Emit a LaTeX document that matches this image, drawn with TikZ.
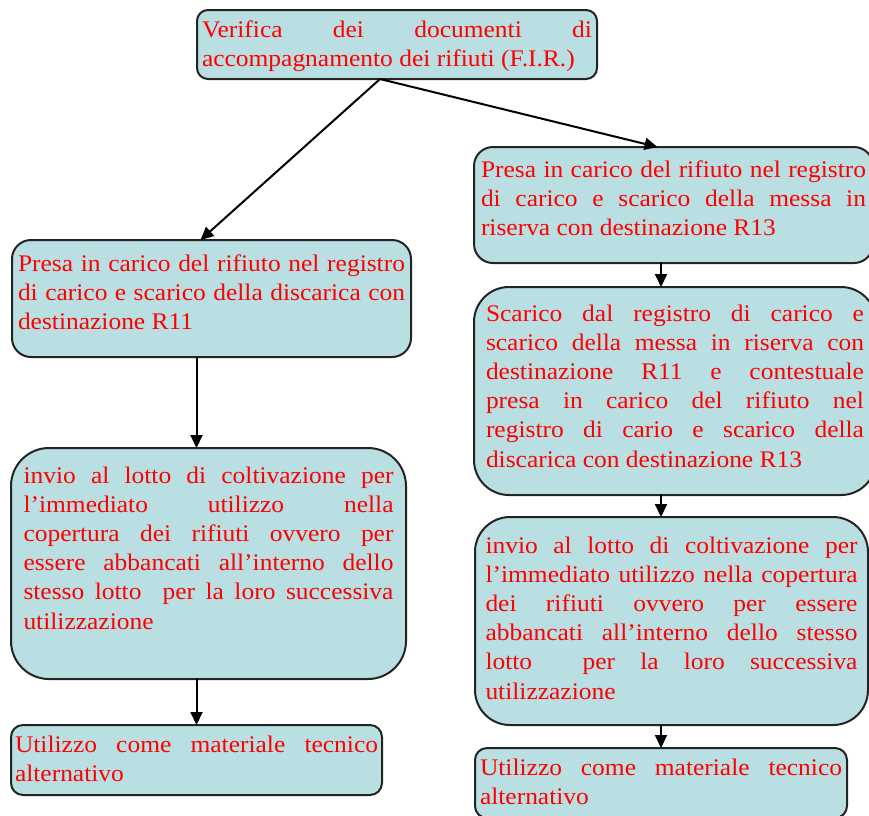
\documentclass[tikz,border=0pt]{standalone}
\usepackage{fontspec}
\setmainfont{Liberation Serif}[FakeStretch=1.07]
\usetikzlibrary{arrows.meta}
\definecolor{boxfill}{RGB}{185,223,227}
\definecolor{boxline}{RGB}{35,35,35}
\newcommand{\jl}[1]{\makebox[\hsize][s]{\spaceskip=0pt\relax #1}}

\begin{document}
\begin{tikzpicture}[x=1pt, y=-1pt, >={Triangle[length=13pt,width=12pt]}]
\tikzstyle{every node}=[draw=boxline, line width=2pt, fill=boxfill, text=red, anchor=north west, align=left, inner ysep=0pt, outer sep=0pt, font={\fontsize{23.8}{29.2}\selectfont}, execute at begin node={\spaceskip=0pt\relax}]
\useasboundingbox (0,0) rectangle (869,815);
% top box
\node[rounded corners=11pt, inner xsep=5pt, text width=390pt, text height=27pt, text depth=42pt](fir) at (197,10)
  {\jl{Verifica dei documenti di}\\accompagnamento dei rifiuti (F.I.R.)};
% left branch
\node[rounded corners=19pt, inner xsep=6pt, text width=387pt, text height=31pt, text depth=86pt](l1) at (12,240)
  {\jl{Presa in carico del rifiuto nel registro}\\\jl{di carico e scarico della discarica con}\\destinazione R11};
\node[rounded corners=38pt, inner xsep=12.5pt, text width=370pt, text height=35pt, text depth=196pt](l2) at (11,448)
  {\jl{invio al lotto di coltivazione per}\\\jl{l’immediato utilizzo nella}\\\jl{copertura dei rifiuti ovvero per}\\\jl{essere abbancati all’interno dello}\\\jl{stesso lotto\ \ per la loro successiva}\\utilizzazione};
\node[rounded corners=12pt, inner xsep=4pt, text width=363pt, text height=27pt, text depth=43pt](l3) at (11,725)
  {\jl{Utilizzo come materiale tecnico}\\alternativo};
% right branch
\node[rounded corners=19pt, inner xsep=7pt, text width=385pt, text height=30pt, text depth=86pt](r1) at (474,147)
  {\jl{Presa in carico del rifiuto nel registro}\\\jl{di carico e scarico della messa in}\\riserva con destinazione R13};
\node[rounded corners=35pt, inner xsep=12pt, text width=378pt, text height=34pt, text depth=174pt](r2) at (474,287)
  {\jl{Scarico dal registro di carico e}\\\jl{scarico della messa in riserva con}\\\jl{destinazione R11 e contestuale}\\\jl{presa in carico del rifiuto nel}\\\jl{registro di cario e scarico della}\\discarica con destinazione R13};
\node[rounded corners=35pt, inner xsep=10.5pt, text width=372pt, text height=36pt, text depth=172pt](r3) at (475,517)
  {\jl{invio al lotto di coltivazione per}\\\jl{l’immediato utilizzo nella copertura}\\\jl{dei rifiuti ovvero per essere}\\\jl{abbancati all’interno dello stesso}\\\jl{lotto\ \ per la loro successiva}\\utilizzazione};
\node[rounded corners=12pt, inner xsep=5pt, text width=362pt, text height=27pt, text depth=43pt](r4) at (475,748)
  {\jl{Utilizzo come materiale tecnico}\\alternativo};
% connectors
\draw[->, line width=2pt] ([xshift=-17pt]fir.south) -- ([xshift=-11pt]l1.north);
\draw[->, line width=2pt] ([xshift=-17pt]fir.south) -- ([xshift=-16pt]r1.north);
\draw[->, line width=2pt] (l1.south -| l3.north) -- (l2.north -| l3.north);
\draw[->, line width=2pt] (l2.south -| l3.north) -- (l3.north);
\draw[->, line width=2pt] (r1.south -| r4.north) -- (r2.north -| r4.north);
\draw[->, line width=2pt] (r2.south -| r4.north) -- (r3.north -| r4.north);
\draw[->, line width=2pt] (r3.south -| r4.north) -- (r4.north);
\end{tikzpicture}
\end{document}
